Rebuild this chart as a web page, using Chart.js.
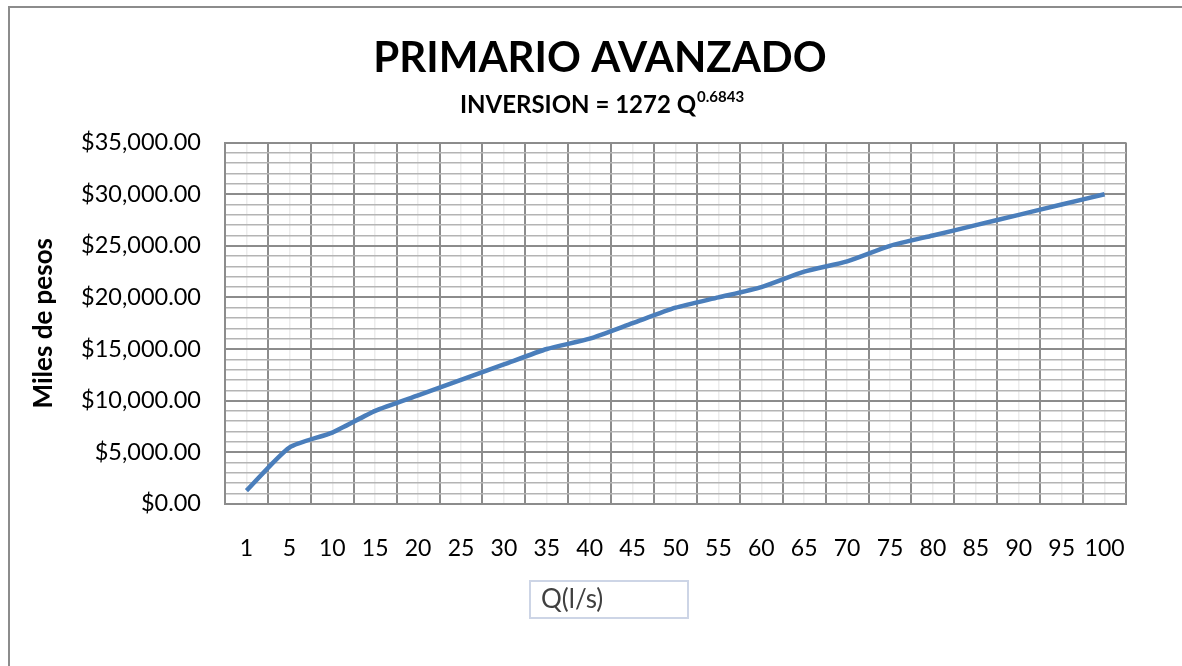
<!DOCTYPE html>
<html>
<head>
<meta charset="utf-8">
<script src="https://cdn.jsdelivr.net/npm/chart.js@4.4.1/dist/chart.umd.min.js"></script>
<style>
  html, body { margin: 0; padding: 0; background: #fff; overflow: hidden; }
  #marco { position: absolute; left: 8px; top: 6px; width: 1400px; height: 900px;
           border-left: 2px solid #8c8c8c; border-top: 2px solid #8c8c8c; }
  #grafic1 { position: absolute; left: 0; top: 0; }
</style>
</head>
<body>
<div id="marco"><canvas id="grafic1" width="1172" height="658"></canvas></div>
<script>
const categorias = ['1', '5', '10', '15', '20', '25', '30', '35', '40', '45', '50',
  '55', '60', '65', '70', '75', '80', '85', '90', '95', '100'];
const inversion = [1272, 5450, 6900, 9000, 10500, 12000, 13500, 15000, 16000, 17500, 19000,
  20000, 21000, 22500, 23500, 25000, 26000, 27000, 28000, 29000, 30000];
const yMin = 0;
const yMax = 35000;
const pasoMayor = 5000;
const pasoMenor = 1000;

const titulo = 'PRIMARIO AVANZADO';
const subtitulo = 'INVERSION = 1272 Q';
const exponente = '0.6843';
const tituloY = 'Miles de pesos';
const tituloX = 'Q(l/s)';

const fuente = 'Lato, "Open Sans", sans-serif';

function pesos(v) {
  return '$' + v.toLocaleString('en-US', { minimumFractionDigits: 2, maximumFractionDigits: 2 });
}

// titles and the boxed x label
const textos = {
  id: 'textos',
  afterDraw(chart) {
    const c = chart.ctx;
    c.save();
    c.fillStyle = '#000';
    c.textBaseline = 'alphabetic';
    c.textAlign = 'center';
    c.font = 'bold 42px ' + fuente;
    c.fillText(titulo, 590, 64);

    c.textAlign = 'left';
    c.font = 'bold 24px ' + fuente;
    const w1 = c.measureText(subtitulo).width;
    c.font = 'bold 15px ' + fuente;
    const w2 = c.measureText(exponente).width;
    const x0 = 592 - (w1 + w2 + 1) / 2;
    c.font = 'bold 24px ' + fuente;
    c.fillText(subtitulo, x0, 105);
    c.font = 'bold 15px ' + fuente;
    c.fillText(exponente, x0 + w1 + 1, 94);

    c.strokeStyle = '#cdd5e6';
    c.lineWidth = 2;
    c.strokeRect(520, 573, 158, 37);
    c.fillStyle = '#404040';
    c.font = '26px ' + fuente;
    c.fillText(tituloX, 531, 600);
    c.restore();
  }
};

const ctx1 = document.getElementById('grafic1');

const data1 = {
  labels: categorias,
  datasets: [{
    label: 'Inversion',
    data: inversion,
    borderColor: '#4a7ebb',
    backgroundColor: '#4a7ebb',
    borderWidth: 4.5,
    pointRadius: 0,
    tension: 0.2,
    fill: false
  }]
};

const config1 = {
  type: 'line',
  data: data1,
  options: {
    responsive: false,
    animation: false,
    layout: { padding: { top: 134.6, right: 56, left: 0, bottom: 0 } },
    plugins: { legend: { display: false }, tooltip: { enabled: false }, title: { display: false } },
    scales: {
      x: {
        type: 'category',
        offset: true,
        grid: { offset: true, color: '#8c8c8c', lineWidth: 2, drawTicks: false },
        border: { display: true, color: '#8c8c8c', width: 2 },
        ticks: { color: '#000', font: { family: fuente, size: 23 }, padding: 31, maxRotation: 0, autoSkip: false },
        afterFit: s => { s.height = 162.2; }
      },
      x2: {
        type: 'category',
        position: 'bottom',
        offset: true,
        grid: { offset: false, color: '#ececec', lineWidth: 1.5, drawTicks: false },
        border: { display: false },
        ticks: { display: false },
        afterFit: s => { s.height = 0; }
      },
      y: {
        min: yMin,
        max: yMax,
        grid: {
          drawTicks: false,
          color: c => (c.tick && c.tick.value % pasoMayor === 0) ? '#8c8c8c' : '#b4b4b4',
          lineWidth: c => (c.tick && c.tick.value % pasoMayor === 0) ? 2 : 1.5
        },
        border: { display: true, color: '#8c8c8c', width: 2 },
        ticks: {
          stepSize: pasoMenor,
          autoSkip: false,
          padding: 24,
          color: '#000',
          font: { family: fuente, size: 23.5 },
          callback: v => (v % pasoMayor === 0) ? pesos(v) : ''
        },
        title: {
          display: true,
          text: tituloY,
          color: '#000',
          font: { family: fuente, size: 26, weight: 'bold' },
          padding: { top: 18, bottom: 0 }
        },
        afterFit: s => { s.width = 215; }
      }
    }
  },
  plugins: [textos]
};

new Chart(ctx1, config1);
</script>
</body>
</html>
